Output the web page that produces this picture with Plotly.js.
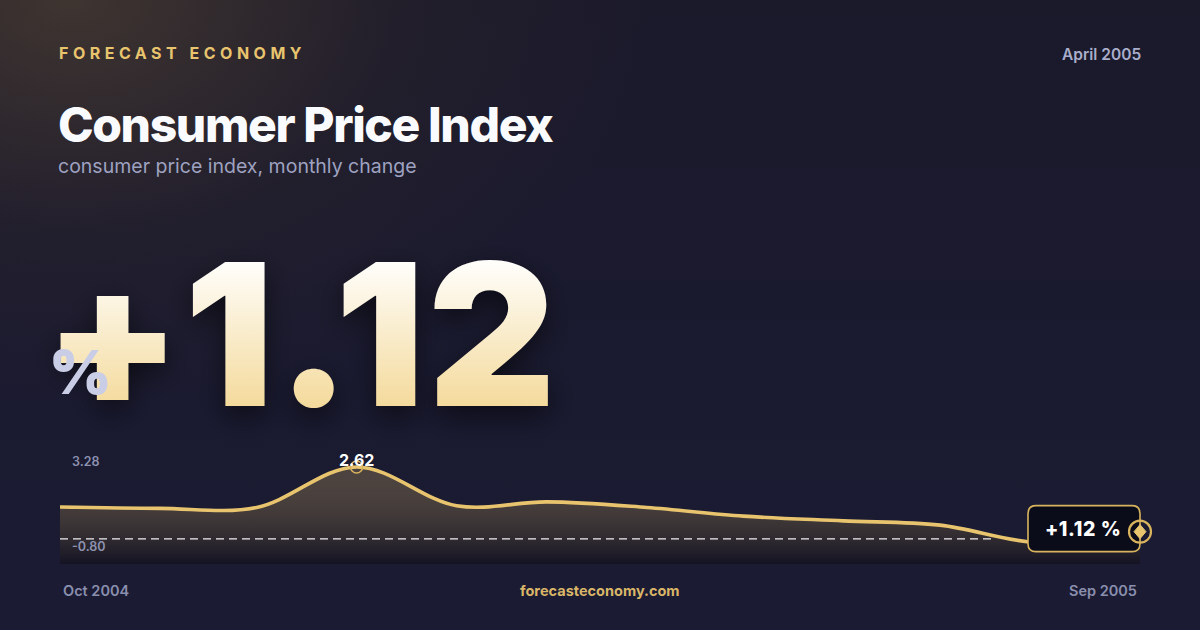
<!DOCTYPE html>
<html>
<head>
<meta charset="utf-8">
<script src="https://cdn.plot.ly/plotly-3.0.1.min.js"></script>
<style>
  html, body { margin: 0; padding: 0; }
  body {
    width: 1200px; height: 630px; overflow: hidden;
    background:
      radial-gradient(ellipse 720px 520px at 70px 0px, rgba(92,74,52,0.55) 0%, rgba(60,48,42,0.22) 45%, rgba(0,0,0,0) 80%),
      linear-gradient(180deg, #1b1a2b 0%, #1a1a30 60%, #1b1b34 100%);
  }
  #chart { width: 1200px; height: 630px; }
</style>
</head>
<body>
<div id="chart"></div>
<script>
// monthly CPI change, Oct 2004 - Sep 2005
var months = ['2004-10-01', '2004-11-01', '2004-12-01', '2005-01-01', '2005-02-01', '2005-03-01',
              '2005-04-01', '2005-05-01', '2005-06-01', '2005-07-01', '2005-08-01', '2005-09-01'];
var monthLabels = ['Oct 2004', 'Nov 2004', 'Dec 2004', 'Jan 2005', 'Feb 2005', 'Mar 2005',
                   'Apr 2005', 'May 2005', 'Jun 2005', 'Jul 2005', 'Aug 2005', 'Sep 2005'];
var cpiChange = [1.69, 1.66, 1.68, 2.62, 1.72, 1.81, 1.68, 1.48, 1.37, 1.27, 0.86, 1.12];
var rangeLabels = ['3.28', '-0.80'];
var refValue = 0.95;

var gold = '#e8c46e';
var n = cpiChange.length;
var last = cpiChange[n - 1];
var peak = Math.max.apply(null, cpiChange);
var peakIdx = cpiChange.indexOf(peak);

var data = [{
    type: 'scatter',
    mode: 'lines',
    x: months,
    y: cpiChange,
    line: {color: gold, width: 3.6, shape: 'spline', smoothing: 1},
    fill: 'tozeroy',
    fillgradient: {
        type: 'vertical',
        start: 0.37,
        stop: peak,
        colorscale: [[0, 'rgba(14,12,22,0.55)'], [1, 'rgba(232,196,110,0.24)']]
    },
    hoverinfo: 'skip'
},
{
    // peak marker
    type: 'scatter',
    mode: 'markers',
    x: [months[peakIdx]],
    y: [peak],
    marker: {symbol: 'circle-open', size: 12, color: '#d9b45e', line: {width: 1.5}},
    hoverinfo: 'skip'
}];

var font = 'Inter, "Noto Sans", sans-serif';

var annotations = [
    {text: 'FORECAST ECONOMY', x: 57 / 1200, y: 0.916, font: {family: font, size: 16, weight: 700, color: gold}},
    {text: 'April 2005', x: 1143 / 1200, y: 0.914, xanchor: 'right', font: {family: font, size: 15.5, weight: 600, color: '#a9aecb'}},
    {text: 'Consumer Price Index', x: 56 / 1200, y: 0.802, font: {family: font, size: 48, weight: 800, color: '#fafbff'}},
    {text: 'consumer price index, monthly change', x: 56 / 1200, y: 0.737, font: {family: font, size: 19.5, weight: 400, color: '#9ea2c0'}},
    {text: '+' + last.toFixed(2), x: 42 / 1200, y: 0.47, font: {family: font, size: 198, weight: 900, color: '#f8ecc8', shadow: '0px 10px 28px rgba(0,0,0,0.55)'}},
    {text: '%', x: 47 / 1200, y: 0.41, font: {family: font, size: 60, weight: 900, color: '#c9cde6'}},
    {text: rangeLabels[0], x: 70 / 1200, y: 0.268, font: {family: font, size: 12.5, weight: 600, color: '#8d92b0'}},
    {text: rangeLabels[1], x: 70 / 1200, y: 0.132, font: {family: font, size: 12.5, weight: 600, color: '#8d92b0'}},
    {text: monthLabels[0], x: 61 / 1200, y: 0.062, font: {family: font, size: 14.5, weight: 600, color: '#8a8fae'}},
    {text: monthLabels[n - 1], x: 1139 / 1200, y: 0.062, xanchor: 'right', font: {family: font, size: 14.5, weight: 600, color: '#8a8fae'}},
    {text: 'forecasteconomy.com', x: 0.5, y: 0.062, xanchor: 'center', font: {family: font, size: 14.5, weight: 700, color: '#d9b668'}},
    {text: peak.toFixed(2), xref: 'x', yref: 'y', x: months[peakIdx], y: peak, yshift: 7, xanchor: 'center',
     font: {family: font, size: 16, weight: 700, color: '#ffffff'}},
    {text: '+' + last.toFixed(2) + ' %', xref: 'x', yref: 'y', x: months[n - 1], y: last, xanchor: 'center', xshift: -57, yshift: 3,
     font: {family: font, size: 19.5, weight: 800, color: '#ffffff'}}
];
annotations.forEach(function(a) {
    a.showarrow = false;
    if (!a.xref) { a.xref = 'paper'; a.yref = 'paper'; }
    if (!a.xanchor) a.xanchor = 'left';
    a.yanchor = 'middle';
});

var shapes = [
    // dashed reference line
    {type: 'line', xref: 'paper', yref: 'y', x0: 0.05, x1: 0.828, y0: refValue, y1: refValue,
     line: {color: 'rgba(255,255,255,0.92)', width: 1.2, dash: '8px,5px'}, layer: 'above'},
    // value box
    {type: 'path', xref: 'x', yref: 'y', xsizemode: 'pixel', ysizemode: 'pixel',
     xanchor: months[n - 1], yanchor: last,
     path: 'M -104,-20 L -8,-20 Q 0,-20 0,-12 L 0,18 Q 0,26 -8,26 L -104,26 Q -112,26 -112,18 L -112,-12 Q -112,-20 -104,-20 Z',
     fillcolor: '#0b0c1a', line: {color: '#d9b45e', width: 1.6}, layer: 'above'},
    // end marker ring
    {type: 'circle', xref: 'x', yref: 'y', xsizemode: 'pixel', ysizemode: 'pixel',
     xanchor: months[n - 1], yanchor: last, x0: -11, x1: 11, y0: -11, y1: 11,
     fillcolor: 'rgba(0,0,0,0)', line: {color: '#d9b45e', width: 2.2}, layer: 'above'},
    // end marker diamond
    {type: 'path', xref: 'x', yref: 'y', xsizemode: 'pixel', ysizemode: 'pixel',
     xanchor: months[n - 1], yanchor: last,
     path: 'M 0,7 L 6,0 L 0,-7 L -6,0 Z',
     fillcolor: gold, line: {color: gold, width: 1}, layer: 'above'}
];

var layout = {
    width: 1200,
    height: 630,
    margin: {l: 0, r: 0, t: 0, b: 0},
    paper_bgcolor: 'rgba(0,0,0,0)',
    plot_bgcolor: 'rgba(0,0,0,0)',
    showlegend: false,
    // a little room past the last month so the end marker is not clipped
    xaxis: {type: 'date', domain: [0.05, 0.97], range: [months[0], '2005-09-08 10:40'],
            visible: false, showgrid: false, zeroline: false, fixedrange: true},
    yaxis: {domain: [0.1048, 0.304], range: [0.37, 3.28],
            visible: false, showgrid: false, zeroline: false, fixedrange: true},
    annotations: annotations,
    shapes: shapes
};

Plotly.newPlot('chart', data, layout, {staticPlot: true, displayModeBar: false}).then(function(gd) {
    // gradient fill for the big number
    var svg = gd.querySelector('.main-svg');
    var ns = 'http://www.w3.org/2000/svg';
    var defs = document.createElementNS(ns, 'defs');
    defs.innerHTML = '<linearGradient id="bigGold" x1="0" y1="0" x2="0" y2="1">' +
        '<stop offset="0.2" stop-color="#fffefb"/><stop offset="0.8" stop-color="#f4da9c"/></linearGradient>';
    svg.insertBefore(defs, svg.firstChild);

    var big = gd.querySelector('.annotation[data-index="4"] .annotation-text');
    if (big) big.style.fill = 'url(#bigGold)';

    // letter spacing, keeping the left edge where it was
    function spacing(idx, ls) {
        var el = gd.querySelector('.annotation[data-index="' + idx + '"] .annotation-text');
        if (!el) return;
        var before = el.getBBox().x;
        el.style.letterSpacing = ls;
        var after = el.getBBox().x;
        el.setAttribute('transform', 'translate(' + (before - after) + ',0)');
    }
    spacing(0, '4.5px');
    spacing(2, '-1.4px');
    spacing(4, '3px');
    var box = gd.querySelector('.annotation[data-index="12"] .annotation-text');
    if (box) box.style.letterSpacing = '0.6px';
});
</script>
</body>
</html>
